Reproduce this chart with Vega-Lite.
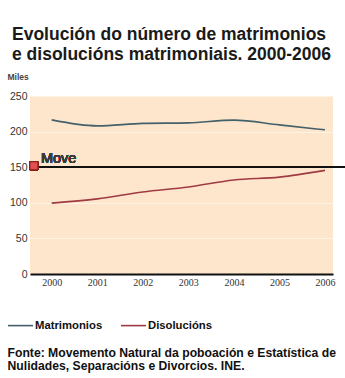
{
  "$schema": "https://vega.github.io/schema/vega-lite/v6.json",
  "autosize": {"type": "none"},
  "width": 303,
  "height": 178,
  "padding": {"left": 30, "top": 96, "right": 12, "bottom": 104},
  "background": "#ffffff",
  "title": {
    "text": ["Evolución do número de matrimonios", "e disolucións matrimoniais. 2000-2006"],
    "anchor": "start",
    "frame": "group",
    "baseline": "alphabetic",
    "lineHeight": 20,
    "font": "Liberation Sans",
    "fontSize": 17.5,
    "fontWeight": "bold",
    "color": "#1a1a1a",
    "dx": -18,
    "dy": 7,
    "offset": 2
  },
  "data": {
    "values": [
      {"ano": 2000, "serie": "Matrimonios", "miles": 216.5},
      {"ano": 2001, "serie": "Matrimonios", "miles": 208.1},
      {"ano": 2002, "serie": "Matrimonios", "miles": 211.5},
      {"ano": 2003, "serie": "Matrimonios", "miles": 212.3},
      {"ano": 2004, "serie": "Matrimonios", "miles": 216.1},
      {"ano": 2005, "serie": "Matrimonios", "miles": 209.4},
      {"ano": 2006, "serie": "Matrimonios", "miles": 202.5},
      {"ano": 2000, "serie": "Disolucións", "miles": 99.5},
      {"ano": 2001, "serie": "Disolucións", "miles": 105.5},
      {"ano": 2002, "serie": "Disolucións", "miles": 115.2},
      {"ano": 2003, "serie": "Disolucións", "miles": 122.2},
      {"ano": 2004, "serie": "Disolucións", "miles": 132.0},
      {"ano": 2005, "serie": "Disolucións", "miles": 136.0},
      {"ano": 2006, "serie": "Disolucións", "miles": 145.5}
    ]
  },
  "layer": [
    {
      "mark": {"type": "line", "strokeWidth": 1.6, "interpolate": "monotone"},
      "encoding": {
        "x": {
          "field": "ano",
          "type": "quantitative",
          "scale": {"domain": [1999.524, 2006.176], "nice": false, "zero": false},
          "axis": {
            "values": [2000, 2001, 2002, 2003, 2004, 2005, 2006],
            "format": "d",
            "title": ["Fonte: Movemento Natural da poboación e Estatística de", "Nulidades, Separacións e Divorcios. INE."]
          }
        },
        "y": {
          "field": "miles",
          "type": "quantitative",
          "scale": {"domain": [0, 250], "nice": false},
          "axis": {
            "values": [0, 50, 100, 150, 200, 250],
            "title": "Miles"
          }
        },
        "color": {
          "field": "serie",
          "type": "nominal",
          "scale": {"domain": ["Matrimonios", "Disolucións"], "range": ["#44606a", "#a03a44"]},
          "legend": {
            "title": null,
            "orient": "none",
            "direction": "horizontal",
            "legendX": -23,
            "legendY": 216,
            "symbolType": "stroke",
            "symbolSize": 625,
            "symbolStrokeWidth": 1.6,
            "labelFont": "Liberation Sans",
            "labelFontSize": 11.3,
            "labelFontWeight": "bold",
            "labelColor": "#111111",
            "labelOffset": 1,
            "columnPadding": 14
          }
        }
      }
    },
    {
      "mark": {"type": "rule", "color": "#111111", "strokeWidth": 1.5},
      "encoding": {
        "x": {"datum": 1999.68, "type": "quantitative", "axis": {"values": [2000, 2001, 2002, 2003, 2004, 2005, 2006]}},
        "x2": {"datum": 2006.44},
        "y": {"datum": 150, "type": "quantitative", "axis": {"values": [0, 50, 100, 150, 200, 250]}}
      }
    },
    {
      "mark": {"type": "point", "shape": "square", "size": 64, "filled": true, "fill": "#e0504e", "stroke": "#8a1c1c", "strokeWidth": 1, "opacity": 1},
      "encoding": {
        "x": {"datum": 1999.61, "type": "quantitative", "axis": {"values": [2000, 2001, 2002, 2003, 2004, 2005, 2006]}},
        "y": {"datum": 152, "type": "quantitative", "axis": {"values": [0, 50, 100, 150, 200, 250]}}
      }
    },
    {
      "mark": {"type": "text", "text": "Move", "align": "left", "baseline": "alphabetic", "font": "Liberation Sans", "fontSize": 14.5, "fontWeight": "normal", "color": "#3a3a3a"},
      "encoding": {
        "x": {"datum": 1999.765, "type": "quantitative", "axis": {"values": [2000, 2001, 2002, 2003, 2004, 2005, 2006]}},
        "y": {"datum": 156, "type": "quantitative", "axis": {"values": [0, 50, 100, 150, 200, 250]}}
      }
    }
  ],
  "config": {
    "view": {"fill": "#fde6cb", "stroke": null},
    "font": "Liberation Sans",
    "axis": {"labelOverlap": false},
    "axisX": {
      "format": "d",
      "grid": false,
      "ticks": false,
      "domain": true,
      "domainColor": "#111111",
      "domainWidth": 2,
      "labelOverlap": false,
      "labelFont": "Liberation Sans Narrow",
      "labelFontSize": 10,
      "labelColor": "#333333",
      "labelPadding": 3,
      "labelBaseline": "top",
      "titleFont": "Liberation Sans",
      "titleFontSize": 12.2,
      "titleFontWeight": "bold",
      "titleColor": "#111111",
      "titleAlign": "left",
      "titleBaseline": "alphabetic",
      "titleAnchor": "start",
      "titleLineHeight": 13.5,
      "titleX": -23,
      "titleY": 82
    },
    "axisY": {
      "grid": true,
      "gridColor": "#fff3e6",
      "gridWidth": 1,
      "ticks": false,
      "domain": false,
      "labelOverlap": false,
      "labelFlush": false,
      "labelFont": "Liberation Sans",
      "labelFontSize": 10.5,
      "labelColor": "#333333",
      "labelPadding": 3,
      "titleFont": "Liberation Sans",
      "titleFontSize": 8.5,
      "titleFontWeight": "bold",
      "titleColor": "#444444",
      "titleAngle": 0,
      "titleAlign": "left",
      "titleBaseline": "alphabetic",
      "titleX": -23,
      "titleY": -17
    }
  }
}
